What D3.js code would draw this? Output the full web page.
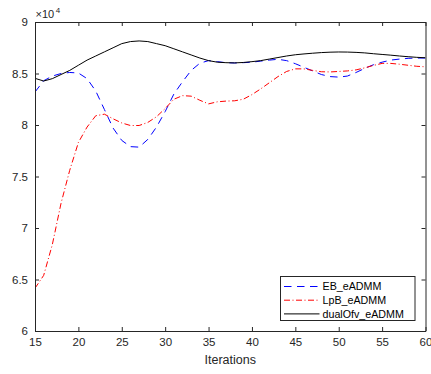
<!DOCTYPE html>
<html>
<head>
<meta charset="utf-8">
<script src="https://cdn.jsdelivr.net/npm/d3@7"></script>
<style>
  html, body { margin: 0; padding: 0; background: #fff; }
  svg { display: block; font-family: "Liberation Sans", Arial, Helvetica, sans-serif; }
</style>
</head>
<body>
<svg id="chart" width="431" height="374"></svg>
<script>
// Iteration numbers on the x axis
const iterations = d3.range(15, 61);

// Objective values per iteration
const ebValues = [
  83200, 84300, 84750, 85000, 85100, 85050, 84500, 83300, 81500, 79700,
  78500, 77900, 77850, 78600, 79800, 81300, 83000, 84200, 85300, 86000,
  86250, 86150, 86050, 86020, 86050, 86100, 86200, 86300, 86380, 86250,
  85950, 85600, 85250, 84900, 84700, 84650, 84750, 85100, 85500, 85850,
  86100, 86300, 86400, 86470, 86500, 86500
];
const lpbValues = [
  64150, 65400, 68400, 72400, 75600, 78300, 79800, 80900, 81050, 80600,
  80200, 79950, 79950, 80250, 80800, 81600, 82500, 82850, 82800, 82400,
  82050, 82250, 82320, 82350, 82500, 82950, 83500, 84100, 84700, 85200,
  85450, 85450, 85300, 85170, 85150, 85200, 85250, 85350, 85550, 85780,
  85980, 85980, 85900, 85800, 85700, 85650
];
const dualValues = [
  84530, 84270, 84500, 84900, 85300, 85800, 86300, 86700, 87100, 87500,
  87900, 88100, 88160, 88100, 87900, 87700, 87400, 87100, 86800, 86500,
  86250, 86100, 86050, 86030, 86070, 86150, 86250, 86400, 86550, 86700,
  86820, 86900, 86970, 87030, 87070, 87090, 87080, 87050, 87000, 86920,
  86850, 86780, 86700, 86630, 86570, 86530
];

const xTicks = [15, 20, 25, 30, 35, 40, 45, 50, 55, 60];
const yTicks = [60000, 65000, 70000, 75000, 80000, 85000, 90000];
const seriesNames = ["EB_eADMM", "LpB_eADMM", "dualOfv_eADMM"];

const axisColor = "#262626";
const svg = d3.select("#chart");
const plotLeft = 35, plotRight = 425.5, plotTop = 22, plotBottom = 331;

const x = d3.scaleLinear().domain([15, 60]).range([plotLeft, plotRight]);
const y = d3.scaleLinear().domain([60000, 90000]).range([plotBottom, plotTop]);

const series = [
  { name: seriesNames[0], values: ebValues, color: "#0000ff", dash: "7.5,5.5" },
  { name: seriesNames[1], values: lpbValues, color: "#ff0000", dash: "6,2.5,1,2.5" },
  { name: seriesNames[2], values: dualValues, color: "#000000", dash: null }
];

// Lines
const line = d3.line()
  .x((d, i) => x(iterations[i]))
  .y(d => y(d));

const plot = svg.append("g");
plot.append("clipPath").attr("id", "clip")
  .append("rect").attr("x", plotLeft).attr("y", plotTop)
  .attr("width", plotRight - plotLeft).attr("height", plotBottom - plotTop);

series.forEach(s => {
  plot.append("path")
    .datum(s.values)
    .attr("clip-path", "url(#clip)")
    .attr("fill", "none")
    .attr("stroke", s.color)
    .attr("stroke-width", 1)
    .attr("stroke-dasharray", s.dash)
    .attr("d", line);
});

// Axes with inward ticks on all four sides
const tickLen = 4;
function styleAxis(g) {
  g.select(".domain").attr("stroke", axisColor).attr("stroke-width", 1);
  g.selectAll(".tick line").attr("stroke", axisColor);
  g.selectAll(".tick text").attr("fill", axisColor).attr("font-size", "11.5px");
}

svg.append("g")
  .attr("transform", `translate(0,${plotBottom})`)
  .call(d3.axisBottom(x).tickValues(xTicks).tickSizeInner(-tickLen).tickSizeOuter(0).tickPadding(7)
        .tickFormat(d3.format("d")))
  .call(styleAxis);

svg.append("g")
  .attr("transform", `translate(0,${plotTop})`)
  .call(d3.axisTop(x).tickValues(xTicks).tickSizeInner(-tickLen).tickSizeOuter(0).tickFormat(""))
  .call(styleAxis);

svg.append("g")
  .attr("transform", `translate(${plotLeft},0)`)
  .call(d3.axisLeft(y).tickValues(yTicks).tickSizeInner(-tickLen).tickSizeOuter(0).tickPadding(7)
        .tickFormat(d => d3.format("~g")(d / 1e4)))
  .call(styleAxis);

svg.append("g")
  .attr("transform", `translate(${plotRight},0)`)
  .call(d3.axisRight(y).tickValues(yTicks).tickSizeInner(-tickLen).tickSizeOuter(0).tickFormat(""))
  .call(styleAxis);

// Exponent marker above the y axis
const expo = svg.append("text")
  .attr("x", plotLeft + 0.5).attr("y", 18)
  .attr("fill", axisColor).attr("font-size", "11px");
expo.append("tspan").text("\u00d710");
expo.append("tspan").attr("dx", 1.5).attr("dy", -5).attr("font-size", "8px").text("4");

// Axis title
svg.append("text")
  .attr("x", (plotLeft + plotRight) / 2).attr("y", 364)
  .attr("text-anchor", "middle")
  .attr("fill", axisColor).attr("font-size", "12.5px")
  .text("Iterations");

// Legend
const lg = svg.append("g");
lg.append("rect")
  .attr("x", 280.5).attr("y", 276.5).attr("width", 134.5).attr("height", 44)
  .attr("fill", "#fff").attr("stroke", axisColor).attr("stroke-width", 1);
series.forEach((s, i) => {
  const yy = 286.5 + i * 13.7;
  lg.append("line")
    .attr("x1", 284).attr("x2", 319.5).attr("y1", yy).attr("y2", yy)
    .attr("stroke", s.color).attr("stroke-width", 1)
    .attr("stroke-dasharray", s.dash);
  lg.append("text")
    .attr("x", 322.5).attr("y", yy).attr("dy", "0.35em")
    .attr("fill", "#000").attr("font-size", "10.7px")
    .text(s.name);
});
</script>
</body>
</html>
